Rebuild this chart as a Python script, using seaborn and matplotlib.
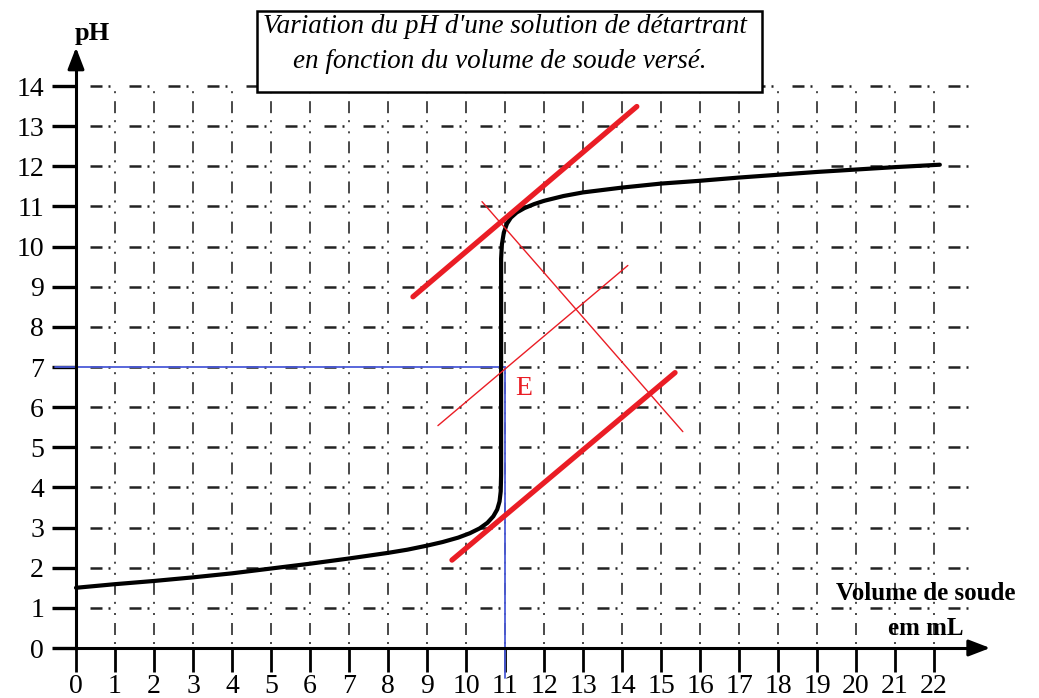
import matplotlib
matplotlib.use("Agg")
import matplotlib.pyplot as plt
import seaborn as sns
import pandas as pd
from matplotlib.patches import Rectangle

# ---------------- data ----------------
volume = [0, 1, 2, 3, 4, 5, 6, 7, 8, 8.5, 9, 9.4, 9.8, 10.1, 10.35, 10.55, 10.7,
          10.8, 10.86, 10.89, 10.9, 10.9, 10.92, 10.97, 11.05, 11.15, 11.3, 11.5,
          11.75, 12.0, 12.5, 13, 14, 15, 16, 17, 18, 19, 20, 21, 22.15]
ph = [1.5, 1.59, 1.67, 1.76, 1.86, 1.98, 2.1, 2.23, 2.37, 2.45, 2.55, 2.64, 2.75,
      2.86, 2.98, 3.12, 3.28, 3.45, 3.65, 3.9, 4.3, 9.7, 10.05, 10.35, 10.57, 10.72,
      10.85, 10.96, 11.06, 11.14, 11.26, 11.35, 11.47, 11.57, 11.64, 11.72, 11.79,
      11.86, 11.92, 11.98, 12.04]

upper_tangent_x = [8.64, 14.38]
upper_tangent_y = [8.75, 13.49]
lower_tangent_x = [9.64, 15.36]
lower_tangent_y = [2.19, 6.86]
perp_x = [10.41, 15.56]
perp_y = [11.12, 5.39]
middle_x = [9.28, 14.15]
middle_y = [5.54, 9.53]
equiv_x = 11.0
equiv_y = 7.0

x_ticks = list(range(0, 23))
y_ticks = list(range(0, 15))

title_line1 = "Variation du pH d'une solution de détartrant"
title_line2 = "en fonction du volume de soude versé."
x_label_1 = "Volume de soude"
x_label_2 = "em mL"
y_label = "pH"

# ---------------- style ----------------
sns.set_style("white")
plt.rcParams["font.family"] = ["Liberation Serif", "DejaVu Serif"]
plt.rcParams["lines.scale_dashes"] = False
plt.rcParams["text.color"] = "black"

RED = "#ea1d25"
BLUE = "#4b5bd8"
PT = 0.72  # points per pixel at dpi 100

fig = plt.figure(figsize=(10.39, 6.98), dpi=100)
ax = fig.add_axes([0, 0, 1, 1])
XS, YS = 39.0, 40.14
ax.set_xlim(-76 / XS, (1039 - 76) / XS)
ax.set_ylim((648 - 698) / YS, 648 / YS)

# grid (dash-dot)
h_seq = (12 * PT, 6 * PT, 2 * PT, 19 * PT)
ax.hlines(y_ticks[1:], 0, 23.0, colors="#222222", linewidths=1.8,
          linestyles=[(25 * PT, h_seq)], zorder=1)
v_seq = (2 * PT, 7 * PT, 12 * PT, 8 * PT, 2 * PT, 9.14 * PT)
ax.vlines(x_ticks[1:], 0, 14, colors="#2a2a2a", linewidths=1.2,
          linestyles=[(36.14 * PT, v_seq)], zorder=1)

# blue reading lines
ax.plot([-0.54, equiv_x], [equiv_y, equiv_y], color=BLUE, lw=1.3, zorder=2, clip_on=False)
ax.plot([equiv_x, equiv_x], [equiv_y, -0.75], color=BLUE, lw=1.3, zorder=2, clip_on=False)

# titration curve
df = pd.DataFrame({"volume": volume, "ph": ph})
sns.lineplot(data=df, x="volume", y="ph", sort=False, estimator=None,
             color="black", lw=3.0, ax=ax, zorder=3)

# construction lines
ax.plot(upper_tangent_x, upper_tangent_y, color=RED, lw=3.8, solid_capstyle="round", zorder=4)
ax.plot(lower_tangent_x, lower_tangent_y, color=RED, lw=3.8, solid_capstyle="round", zorder=4)
ax.plot(perp_x, perp_y, color=RED, lw=1.0, zorder=4)
ax.plot(middle_x, middle_y, color=RED, lw=1.0, zorder=4)
ax.text(11.26, 6.30, "E", color=RED, fontsize=20, ha="left", va="baseline", zorder=6)

# axes
for s in ["top", "right"]:
    ax.spines[s].set_visible(False)
ax.spines["left"].set_position(("data", 0))
ax.spines["bottom"].set_position(("data", 0))
ax.spines["left"].set_bounds(0, 14.6)
ax.spines["bottom"].set_bounds(0, 23.0)
for s in ["left", "bottom"]:
    ax.spines[s].set_linewidth(2.2)
    ax.spines[s].set_color("black")
arrow = dict(arrowstyle="-|>,head_length=0.65,head_width=0.25",
             color="black", lw=2.2, mutation_scale=20, shrinkA=0, shrinkB=0)
ax.annotate("", xy=(23.44, 0), xytext=(22.9, 0), arrowprops=arrow, annotation_clip=False)
ax.annotate("", xy=(0, 14.96), xytext=(0, 14.4), arrowprops=arrow, annotation_clip=False)

ax.set_xticks(x_ticks)
ax.set_yticks(y_ticks)
ax.set_xticklabels([str(v) for v in x_ticks])
ax.set_yticklabels([str(v) for v in y_ticks])
ax.tick_params(axis="x", bottom=True, direction="out", length=17, width=2.0, pad=2,
               labelsize=20, colors="black")
ax.tick_params(axis="y", left=True, direction="out", length=17, width=2.4, pad=6,
               labelsize=20, colors="black")
ax.set_xlabel("")
ax.set_ylabel("")

# labels
ax.text(0.42, 15.14, y_label, fontsize=19, fontweight="bold", ha="center", va="baseline")
ax.text(21.8, 1.196, x_label_1, fontsize=18, fontweight="bold", ha="center", va="baseline", zorder=6)
ax.text(21.8, 0.32, x_label_2, fontsize=18, fontweight="bold", ha="center", va="baseline", zorder=6)

# title box
ax.add_patch(Rectangle((4.64, 13.84), 12.95, 2.02, facecolor="white",
                       edgecolor="black", lw=1.8, zorder=5, clip_on=False))
ax.text(11.0, 15.32, title_line1, fontsize=19.5, fontstyle="italic",
        ha="center", va="baseline", zorder=6)
ax.text(10.87, 14.45, title_line2, fontsize=19.5, fontstyle="italic",
        ha="center", va="baseline", zorder=6)

fig.savefig("out.png", dpi=100)
